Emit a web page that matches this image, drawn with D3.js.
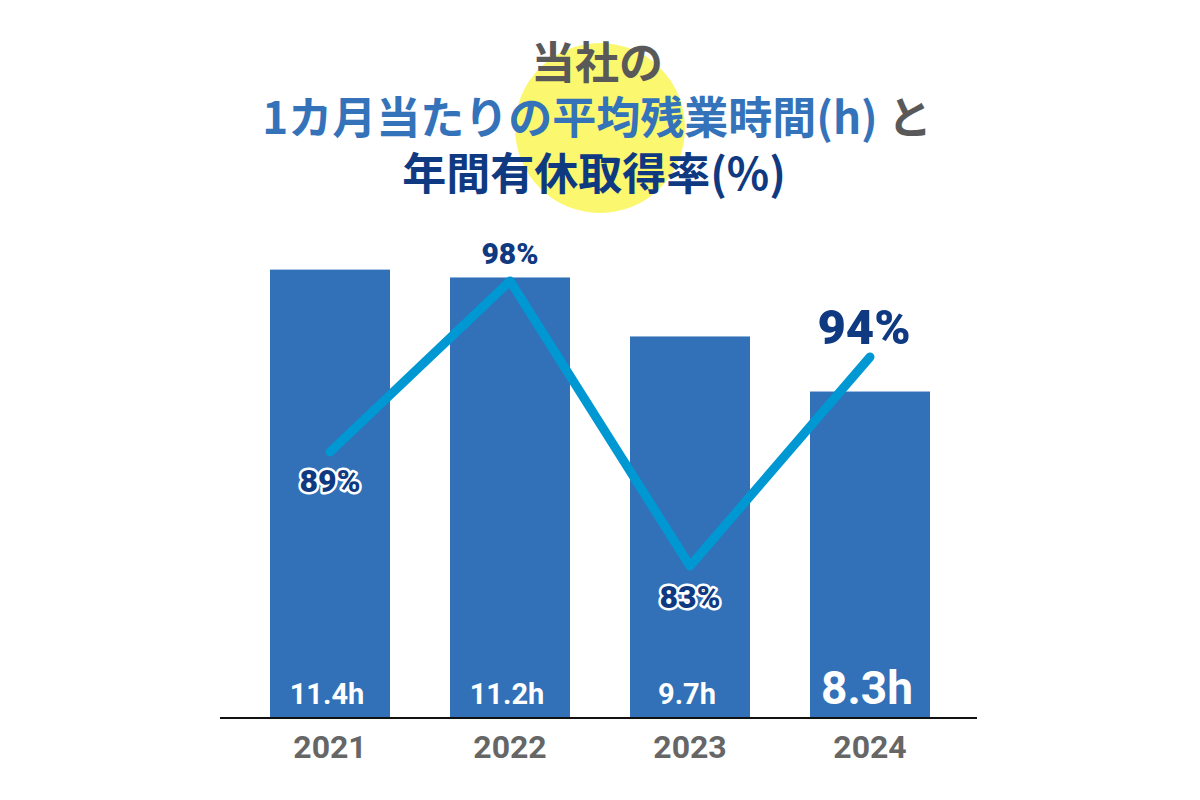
<!DOCTYPE html>
<html>
<head>
<meta charset="utf-8">
<script src="https://cdn.jsdelivr.net/npm/d3@7"></script>
<style>
  html, body { margin: 0; padding: 0; background: #fff; }
  svg { display: block; }
</style>
</head>
<body>
<div id="chart"></div>
<script>
// data
var years = ['2021', '2022', '2023', '2024'];
var hours = [11.4, 11.2, 9.7, 8.3];
var leaveRate = [89, 98, 83, 94];
var hourLabels = ['11.4h', '11.2h', '9.7h', '8.3h'];
var rateLabels = ['89%', '98%', '83%', '94%'];

var width = 1200, height = 800;
var baseY = 718;

var svg = d3.select('#chart').append('svg')
  .attr('width', width)
  .attr('height', height);

// yellow highlight behind the title
svg.append('circle')
  .attr('cx', 600)
  .attr('cy', 128)
  .attr('r', 85)
  .attr('fill', '#fbf76e');

var jp = '"Noto Sans CJK JP", "Noto Sans", sans-serif';
var num = 'Roboto, "Noto Sans", sans-serif';

var title = svg.append('g')
  .attr('font-family', jp)
  .attr('font-weight', 700)
  .attr('font-size', 44)
  .attr('text-anchor', 'middle');

title.append('text')
  .attr('x', 597).attr('y', 79)
  .attr('fill', '#595959')
  .text('当社の');

var t2 = title.append('text')
  .attr('x', 597).attr('y', 134);
t2.append('tspan').attr('fill', '#3473ba').text('1カ月当たりの平均残業時間(h)');
t2.append('tspan').attr('fill', '#595959').text(' と');

title.append('text')
  .attr('x', 594).attr('y', 190)
  .attr('fill', '#0f3a82')
  .text('年間有休取得率(%)');

// scales
var x = d3.scaleBand()
  .domain(years)
  .range([240, 960])
  .paddingInner(1 / 3)
  .paddingOuter(1 / 6);

var yH = d3.scaleLinear()
  .domain([0, 12])
  .range([baseY, 246]);

var yP = d3.scaleLinear()
  .domain([75, 100])
  .range([baseY, 243]);

// bars
svg.selectAll('.bar')
  .data(years)
  .enter().append('rect')
  .attr('class', 'bar')
  .attr('x', function(d) { return x(d); })
  .attr('y', function(d, i) { return yH(hours[i]); })
  .attr('width', x.bandwidth())
  .attr('height', function(d, i) { return baseY - yH(hours[i]); })
  .attr('fill', '#3271b8');

// axis line + year labels
var axis = svg.append('g')
  .attr('transform', 'translate(0,' + baseY + ')')
  .call(d3.axisBottom(x).tickSize(0).tickPadding(0));
axis.select('.domain').remove();
svg.append('line')
  .attr('x1', 220).attr('x2', 977)
  .attr('y1', baseY).attr('y2', baseY)
  .attr('stroke', '#111')
  .attr('stroke-width', 2);
axis.selectAll('text')
  .attr('y', 40)
  .attr('dy', 0)
  .attr('font-family', num)
  .attr('font-weight', 700)
  .attr('font-size', 32)
  .attr('fill', '#666');

// hour labels inside bars
var bigLast = function(i) { return i === years.length - 1; };
svg.selectAll('.hlab')
  .data(years)
  .enter().append('text')
  .attr('class', 'hlab')
  .attr('x', function(d) { return x(d) + x.bandwidth() / 2 - 3; })
  .attr('y', baseY - 14)
  .attr('text-anchor', 'middle')
  .attr('font-family', num)
  .attr('font-weight', 700)
  .attr('font-size', function(d, i) { return bigLast(i) ? 46 : 29; })
  .attr('fill', '#fff')
  .text(function(d, i) { return hourLabels[i]; });

// rate line
var pts = years.map(function(d, i) {
  return [x(d) + x.bandwidth() / 2, yP(leaveRate[i])];
});
svg.append('path')
  .attr('d', d3.line()(pts))
  .attr('fill', 'none')
  .attr('stroke', '#0098d3')
  .attr('stroke-width', 9)
  .attr('stroke-linecap', 'round')
  .attr('stroke-linejoin', 'round');

// rate labels: offset below/above the point
var rateDy = [40, -17, 42, -13];
var rateSize = [32, 30, 32, 49];
svg.selectAll('.plab')
  .data(years)
  .enter().append('text')
  .attr('class', 'plab')
  .attr('x', function(d, i) { return pts[i][0] + (i === 3 ? -6 : 0); })
  .attr('y', function(d, i) { return pts[i][1] + rateDy[i]; })
  .attr('text-anchor', 'middle')
  .attr('font-family', num)
  .attr('font-weight', 900)
  .attr('font-size', function(d, i) { return rateSize[i]; })
  .attr('fill', '#0f3a82')
  .attr('stroke', '#fff')
  .attr('stroke-width', function(d, i) { return (i === 0 || i === 2) ? 5 : 0; })
  .attr('stroke-linejoin', 'round')
  .attr('paint-order', 'stroke')
  .text(function(d, i) { return rateLabels[i]; });
</script>
</body>
</html>
